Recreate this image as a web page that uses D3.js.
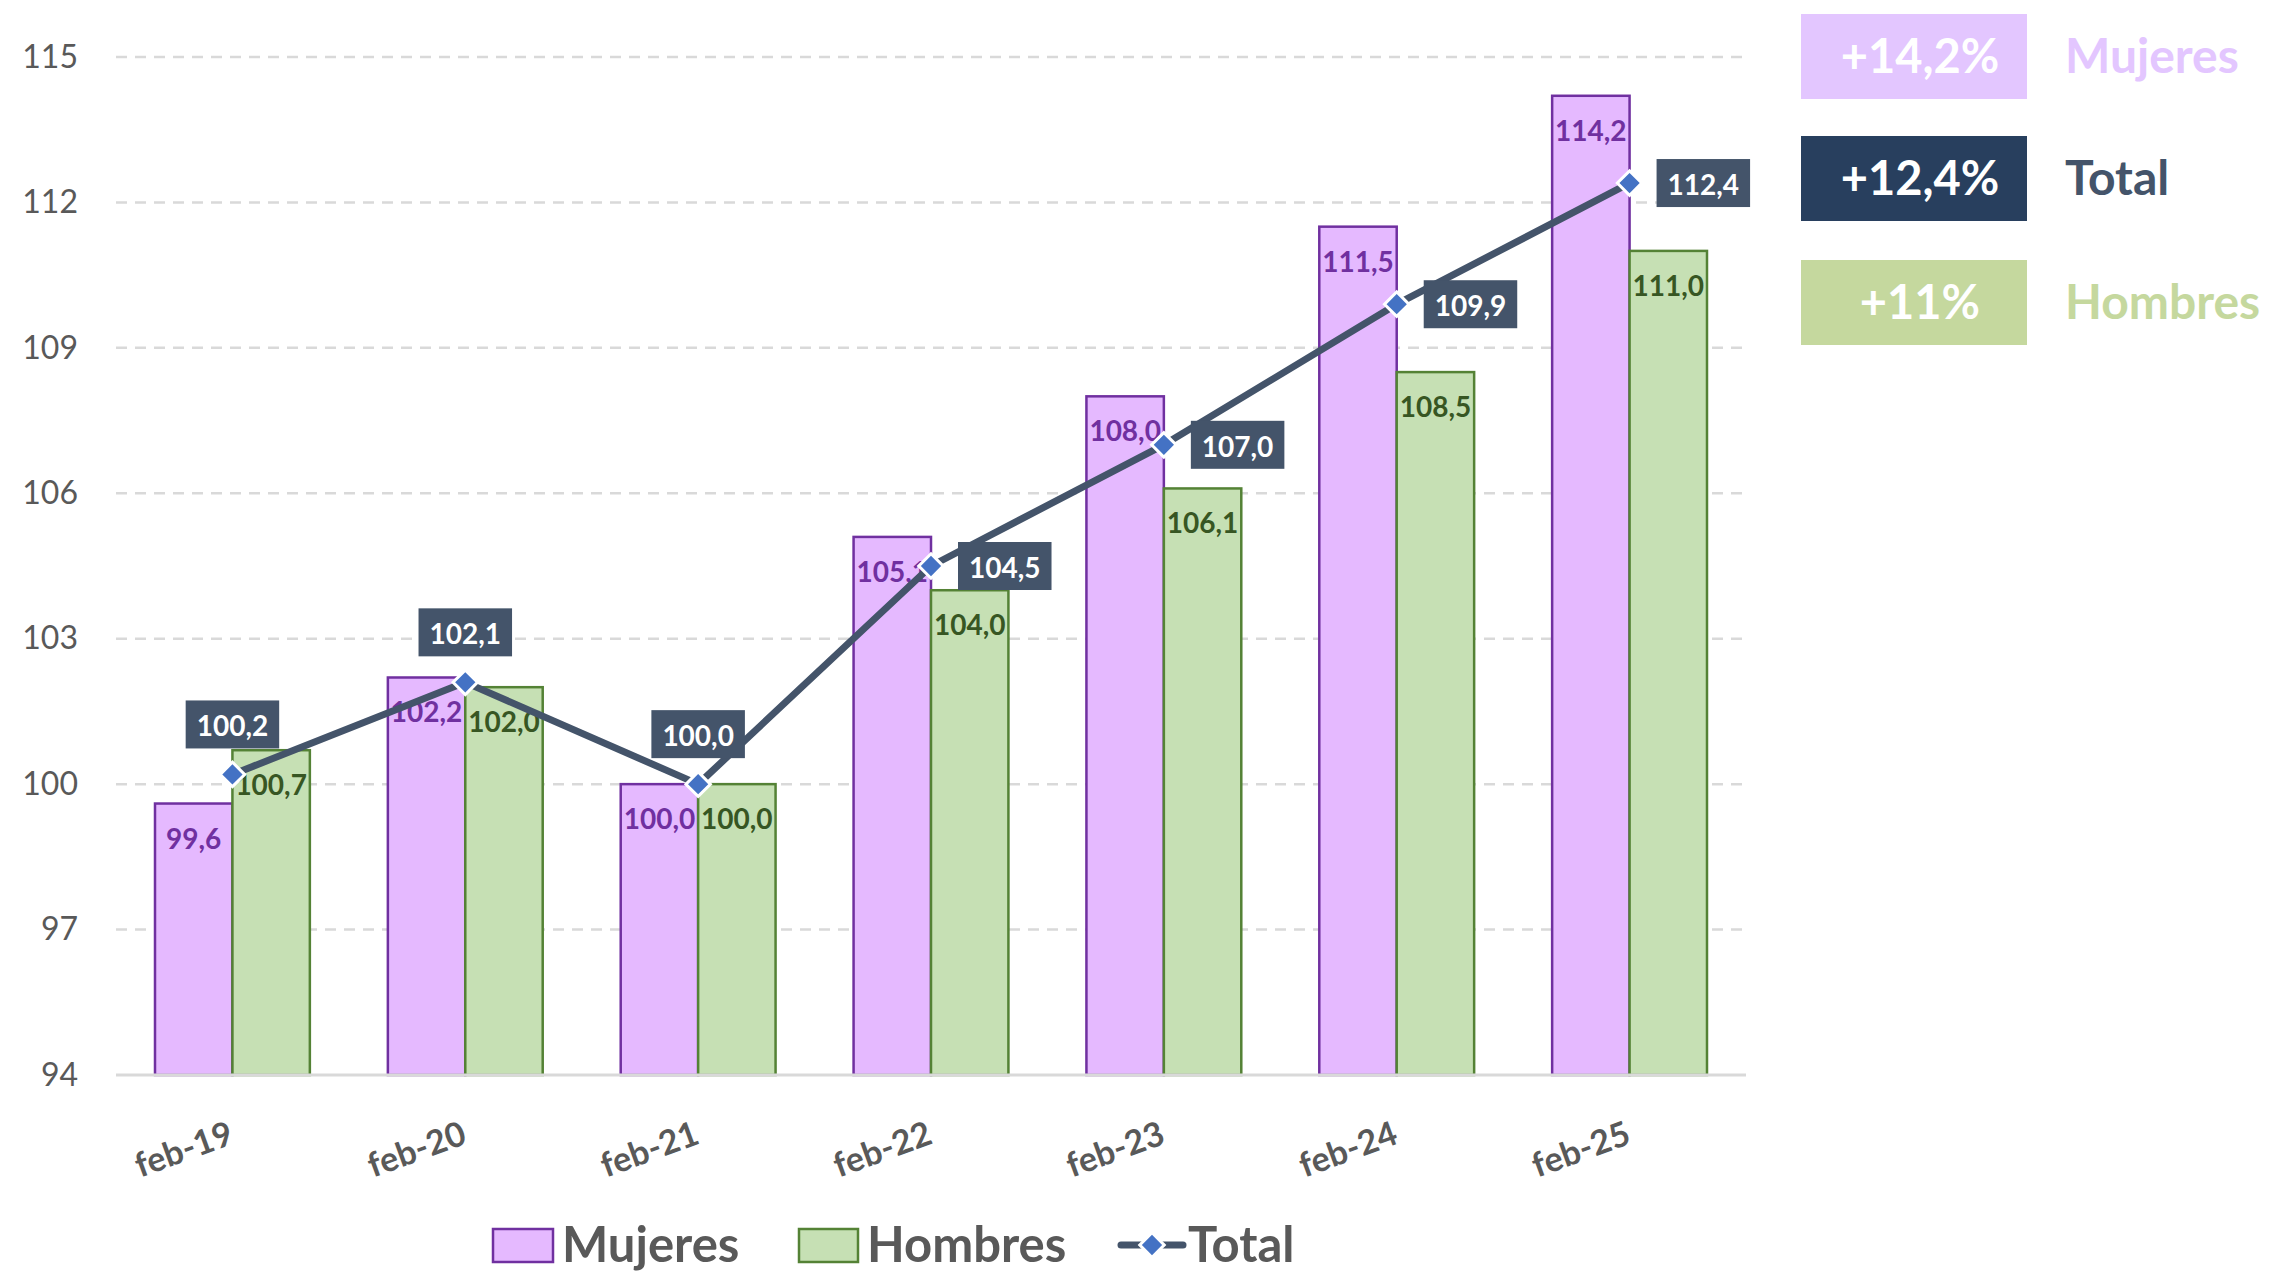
<!DOCTYPE html>
<html><head><meta charset="utf-8">
<script src="https://cdn.jsdelivr.net/npm/d3@7"></script>
<style>body{margin:0;background:#fff} svg{display:block} text{font-family:Lato,'Open Sans',sans-serif}</style>
</head><body><svg id="c" width="2270" height="1273"></svg>
<script>
// ---- data ----
const categories = ["feb-19","feb-20","feb-21","feb-22","feb-23","feb-24","feb-25"];
const mujeres = [99.6,102.2,100.0,105.1,108.0,111.5,114.2];
const hombres = [100.7,102.0,100.0,104.0,106.1,108.5,111.0];
const total   = [100.2,102.1,100.0,104.5,107.0,109.9,112.4];
const yTicks  = [94,97,100,103,106,109,112,115];
const seriesNames = ["Mujeres","Hombres","Total"];
const growthLabels = ["+14,2%","+12,4%","+11%"];

// ---- config ----
const fmt = v => v.toFixed(1).replace(".", ",");
const C = {mFill:"#E5B9FF", mStroke:"#7030A0", mText:"#7030A0",
           hFill:"#C6E0B4", hStroke:"#548235", hText:"#375623",
           tLine:"#44546A", tMarker:"#4472C4", grid:"#D9D9D9", axisText:"#595959"};
const totalLabelSide = i => i < 3 ? "top" : "right";

const svg = d3.select("#c");
const y = d3.scaleLinear().domain([94,115]).range([1075,57]);
const x0 = d3.scaleBand().domain(categories).range([116,1746]).paddingInner(0.335).paddingOuter(0.1675);
const x1 = d3.scaleBand().domain(["Mujeres","Hombres"]).range([0, x0.bandwidth()]);
const cx = c => x0(c) + x0.bandwidth()/2;

// gridlines
svg.append("g").selectAll("line").data(yTicks.filter(t => t !== 94)).join("line")
  .attr("x1",116).attr("x2",1746).attr("y1",d=>y(d)).attr("y2",d=>y(d))
  .attr("stroke",C.grid).attr("stroke-width",2.5).attr("stroke-dasharray","11,8");

// y axis labels
const yAxis = d3.axisLeft(y).tickValues(yTicks).tickSize(0).tickPadding(0).tickFormat(d3.format("d"));
const ya = svg.append("g").attr("transform","translate(78,0)").call(yAxis);
ya.select(".domain").remove();
ya.selectAll("text").attr("font-size",32).attr("fill",C.axisText).attr("font-family","Lato");

// bars
const groups = svg.append("g").selectAll("g").data(categories).join("g")
  .attr("transform", c => `translate(${x0(c)},0)`);
const barData = (c,i) => [{s:"Mujeres",v:mujeres[i]},{s:"Hombres",v:hombres[i]}];
groups.selectAll("rect").data(barData).join("rect")
  .attr("x", d => x1(d.s)).attr("width", x1.bandwidth())
  .attr("y", d => y(d.v)).attr("height", d => y(94)-y(d.v))
  .attr("fill", d => d.s==="Mujeres"?C.mFill:C.hFill)
  .attr("stroke", d => d.s==="Mujeres"?C.mStroke:C.hStroke).attr("stroke-width",2.5);
groups.selectAll("text").data(barData).join("text")
  .attr("x", d => x1(d.s)+x1.bandwidth()/2).attr("y", d => y(d.v)+45)
  .attr("text-anchor","middle").attr("font-size",28).attr("font-weight","bold")
  .attr("fill", d => d.s==="Mujeres"?C.mText:C.hText).text(d => fmt(d.v));

// x axis baseline
svg.append("line").attr("x1",116).attr("x2",1746).attr("y1",y(94)).attr("y2",y(94))
  .attr("stroke",C.grid).attr("stroke-width",3);

// x labels
svg.append("g").selectAll("text").data(categories).join("text")
  .attr("transform", c => `translate(${cx(c)+3},1143) rotate(-20)`)
  .attr("text-anchor","end").attr("font-size",34).attr("font-weight","bold")
  .attr("fill",C.axisText).text(c => c);

// total line
const pts = categories.map((c,i) => [cx(c), y(total[i])]);
svg.append("path").attr("d", d3.line()(pts)).attr("fill","none")
  .attr("stroke",C.tLine).attr("stroke-width",7).attr("stroke-linejoin","round");
svg.append("g").selectAll("path").data(pts).join("path")
  .attr("d", d3.symbol(d3.symbolSquare, 300)())
  .attr("transform", p => `translate(${p[0]},${p[1]}) rotate(45)`)
  .attr("fill",C.tMarker).attr("stroke","#fff").attr("stroke-width",3);

// total labels
const tl = svg.append("g");
pts.forEach((p,i) => {
  const g = tl.append("g");
  const t = g.append("text").attr("font-size",28).attr("font-weight","bold").attr("fill","#fff")
    .attr("text-anchor","middle").attr("dominant-baseline","central").text(fmt(total[i]));
  const w = t.node().getComputedTextLength() + 22, h = 48;
  let bx, by;
  if (totalLabelSide(i) === "top") { bx = p[0]-w/2; by = p[1]-26-h; }
  else { bx = p[0]+27; by = p[1]-h/2; }
  g.insert("rect","text").attr("x",bx).attr("y",by).attr("width",w).attr("height",h).attr("fill",C.tLine);
  t.attr("x",bx+w/2).attr("y",by+h/2+1);
});

// bottom legend
const lg = svg.append("g");
const LY = 1262;
lg.append("rect").attr("x",493).attr("y",LY-33).attr("width",60).attr("height",33)
  .attr("fill",C.mFill).attr("stroke",C.mStroke).attr("stroke-width",2.5);
lg.append("text").attr("x",562).attr("y",LY).attr("font-size",49).attr("font-weight","bold")
  .attr("fill",C.axisText).text(seriesNames[0]);
lg.append("rect").attr("x",799).attr("y",LY-33).attr("width",59).attr("height",33)
  .attr("fill",C.hFill).attr("stroke",C.hStroke).attr("stroke-width",2.5);
lg.append("text").attr("x",867).attr("y",LY).attr("font-size",49).attr("font-weight","bold")
  .attr("fill",C.axisText).text(seriesNames[1]);
lg.append("line").attr("x1",1121).attr("x2",1183).attr("y1",LY-17).attr("y2",LY-17)
  .attr("stroke",C.tLine).attr("stroke-width",7).attr("stroke-linecap","round");
lg.append("path").attr("d", d3.symbol(d3.symbolSquare, 300)())
  .attr("transform",`translate(1152,${LY-17}) rotate(45)`)
  .attr("fill",C.tMarker).attr("stroke","#fff").attr("stroke-width",3);
lg.append("text").attr("x",1188).attr("y",LY).attr("font-size",49).attr("font-weight","bold")
  .attr("fill",C.axisText).text(seriesNames[2]);

// right growth panel
const panel = [
  {fill:"#E3C6FF", label:"#E3C6FF", y:14},
  {fill:"#283F5E", label:"#44546A", y:136},
  {fill:"#C5D89E", label:"#C5D89E", y:260}
];
const rp = svg.append("g");
panel.forEach((p,i) => {
  rp.append("rect").attr("x",1801).attr("y",p.y).attr("width",226).attr("height",85).attr("fill",p.fill);
  rp.append("text").attr("x",1920).attr("y",p.y+59).attr("text-anchor","middle")
    .attr("font-size",47).attr("font-weight","bold").attr("fill","#fff").text(growthLabels[i]);
  rp.append("text").attr("x",2065).attr("y",p.y+59)
    .attr("font-size",48).attr("font-weight","bold").attr("fill",p.label).text(seriesNames[[0,2,1][i]]);
});
</script></body></html>
